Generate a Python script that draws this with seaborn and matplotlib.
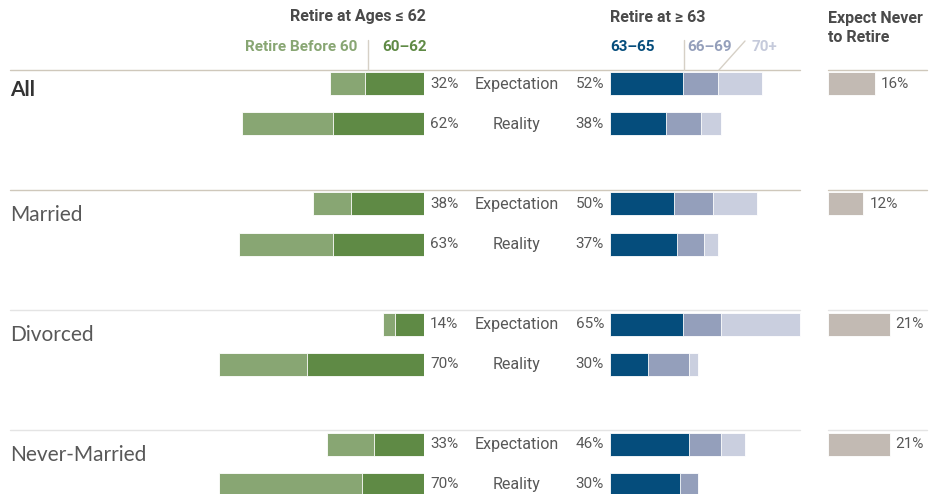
import matplotlib
matplotlib.use("Agg")
import matplotlib.pyplot as plt
import seaborn as sns
import pandas as pd

# values (percent of respondents)
groups = ["All", "Married", "Divorced", "Never-Married"]
kinds = ["Expectation", "Reality"]
before60 = {"Expectation": [12, 13, 4, 16], "Reality": [31, 32, 30, 49]}
ages60_62 = {"Expectation": [20, 25, 10, 17], "Reality": [31, 31, 40, 21]}
ages63_65 = {"Expectation": [25, 22, 25, 27], "Reality": [19, 23, 13, 24]}
ages66_69 = {"Expectation": [12, 13, 13, 11], "Reality": [12, 9, 14, 6]}
ages70 = {"Expectation": [15, 15, 27, 8], "Reality": [7, 5, 3, 0]}
never_retire = [16, 12, 21, 21]

# colors
c_b60 = "#88a673"
c_6062 = "#5f8a45"
c_6365 = "#054d7c"
c_6669 = "#949fbb"
c_70 = "#cacfdf"
c_never = "#c2bab3"
c_text = "#585858"
c_head = "#4a4a4a"

sns.set_theme(style="white")
narrow = ["Roboto", "DejaVu Sans"]
plt.rcParams["font.family"] = narrow

rows = []
for g, grp in enumerate(groups):
    for r, k in enumerate(kinds):
        rows.append({"group": grp, "kind": k, "pos": 3 * g + r,
                     "b60": before60[k][g], "a6062": ages60_62[k][g],
                     "a6365": ages63_65[k][g], "a6669": ages66_69[k][g],
                     "a70": ages70[k][g]})
df = pd.DataFrame(rows)
df["left_total"] = df["b60"] + df["a6062"]
df["left_all"] = -df["left_total"]
df["left_inner"] = -df["a6062"]
df["right_total"] = df["a6365"] + df["a6669"] + df["a70"]
df["right_mid"] = df["a6365"] + df["a6669"]
never_df = pd.DataFrame({"group": groups, "never": never_retire,
                         "pos": [3 * g for g in range(len(groups))]})

W, H = 940, 494
SCALE = 2.93      # pixels per percentage point
ROW0, ROWSTEP = 84, 40  # pixel y of first row, pixels per row unit
BAR_W = 0.575
ylim = ((H - ROW0) / ROWSTEP, -ROW0 / ROWSTEP)


def ypx(pos):
    return ROW0 + ROWSTEP * pos


fig = plt.figure(figsize=(W / 100, H / 100), dpi=100)


def bar_axes(x0, x1, left_side=False):
    ax = fig.add_axes([x0 / W, 0, (x1 - x0) / W, 1])
    span = (x1 - x0) / SCALE
    ax.set_xlim((-span, 0) if left_side else (0, span))
    return ax


axL = bar_axes(100, 424, left_side=True)
axR = bar_axes(610, 810)
axN = bar_axes(828, 928)

kw = dict(orient="h", native_scale=True, errorbar=None, saturation=1,
          edgecolor="white", linewidth=0.6)
sns.barplot(data=df, x="left_all", y="pos", color=c_b60, width=BAR_W, ax=axL, **kw)
sns.barplot(data=df, x="left_inner", y="pos", color=c_6062, width=BAR_W, ax=axL, **kw)
sns.barplot(data=df, x="right_total", y="pos", color=c_70, width=BAR_W, ax=axR, **kw)
sns.barplot(data=df, x="right_mid", y="pos", color=c_6669, width=BAR_W, ax=axR, **kw)
sns.barplot(data=df, x="a6365", y="pos", color=c_6365, width=BAR_W, ax=axR, **kw)
# never-retire rows are 3 units apart, native scale widens bars by that spacing
sns.barplot(data=never_df, x="never", y="pos", color=c_never, width=BAR_W / 3, ax=axN, **kw)

for ax in (axL, axR, axN):
    ax.set_ylim(*ylim)
    ax.axis("off")
    ax.patch.set_alpha(0)

for _, row in never_df.iterrows():
    axN.text(row["never"] + 2.1, row["pos"], f"{row['never']}%", ha="left",
             va="center", fontsize=11, color=c_text)

# overlay in pixel coordinates for text and rules
ov = fig.add_axes([0, 0, 1, 1], zorder=-1)
ov.set_xlim(0, W)
ov.set_ylim(H, 0)
ov.axis("off")

for g, grp in enumerate(groups):
    y_line = ypx(3 * g) - 14
    lc = "#cfc8bb" if g < 2 else "#e4e4e4"
    ov.plot([10, 800], [y_line, y_line], color=lc, lw=1)
    ov.plot([828, 927], [y_line, y_line], color=lc, lw=1)
    ov.text(10, ypx(3 * g) + (12 if g == 0 else 17), grp, ha="left", va="baseline",
            fontsize=15, family=["Lato", "DejaVu Sans"],
            color="#333333" if g == 0 else c_text,
            fontweight="bold" if g == 0 else "normal")

for _, row in df.iterrows():
    y = ypx(row["pos"])
    ov.text(430, y, f"{row['left_total']}%", ha="left", va="center", fontsize=11, color=c_text)
    ov.text(604, y, f"{row['right_total']}%", ha="right", va="center", fontsize=11, color=c_text)
    ov.text(517, y, row["kind"], ha="center", va="center", fontsize=11.5, color=c_text)

# headers
ov.text(426, 17, "Retire at Ages \u2264 62", ha="right", va="center", fontsize=11.5,
        fontweight="bold", color=c_head)
ov.text(610, 17, "Retire at \u2265 63", ha="left", va="center", fontsize=11.5,
        fontweight="bold", color=c_head)
ov.text(828, 28, "Expect Never\nto Retire", ha="left", va="center", fontsize=11.5,
        fontweight="bold", color=c_head, linespacing=1.35)

ov.text(357, 47, "Retire Before 60", ha="right", va="center", fontsize=11,
        fontweight="bold", color=c_b60)
ov.plot([368, 368], [40, 70], color="#d6d0c6", lw=1)
ov.text(382, 47, "60\u201362", ha="left", va="center", fontsize=11,
        fontweight="bold", color=c_6062)
ov.text(610, 47, "63\u201365", ha="left", va="center", fontsize=11,
        fontweight="bold", color=c_6365)
ov.plot([684, 684], [40, 70], color="#d6d0c6", lw=1)
ov.text(687, 47, "66\u201369", ha="left", va="center", fontsize=11,
        fontweight="bold", color=c_6669)
ov.plot([719, 745], [70, 41], color="#d6d0c6", lw=1)
ov.text(752, 47, "70+", ha="left", va="center", fontsize=11,
        fontweight="bold", color="#c5cadb")

fig.savefig("out.png", dpi=100)
